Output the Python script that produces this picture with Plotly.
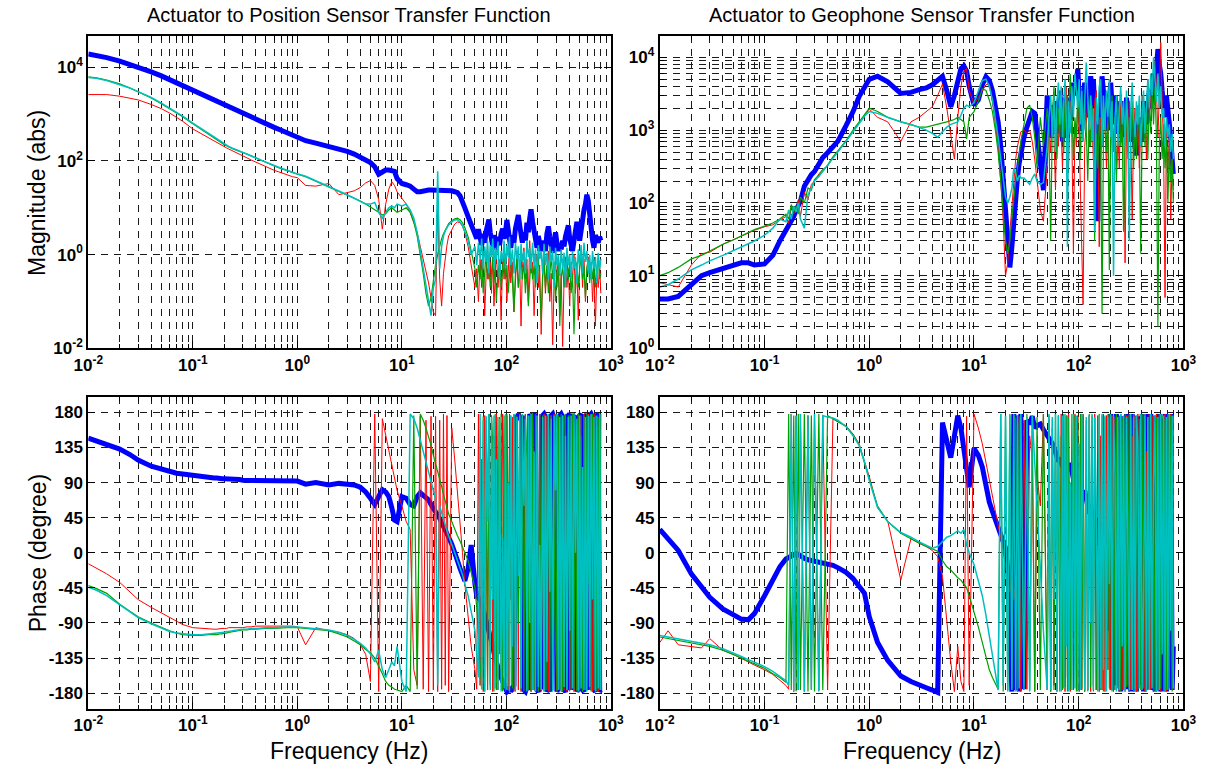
import plotly.graph_objects as go

# ---------------- frequency grid (Hz) ----------------
freq_low = [0.01, 0.012, 0.015, 0.02, 0.025, 0.03, 0.04, 0.05, 0.06, 0.07,
            0.08, 0.1, 0.12, 0.14, 0.16, 0.17, 0.18, 0.19, 0.2, 0.21,
            0.22, 0.24, 0.26, 0.28, 0.3, 0.33, 0.36, 0.4, 0.45, 0.5,
            0.6, 0.7, 0.8, 0.9, 1.0]
freq_mid = [1.2, 1.5, 2, 2.5, 3, 3.5, 4, 4.5, 5, 5.5,
            6, 6.5, 7, 7.5, 8, 8.5, 9, 10, 11, 12,
            13, 14, 15, 16, 17, 18, 19, 20]
freq_high = [21, 22, 23, 24, 25, 26, 27, 28, 30, 32,
             34, 36, 38, 40, 43, 46, 50]
freq_dense = [52, 54, 56, 58, 60, 62, 64, 66, 68, 70,
              72, 74, 76, 78, 80, 83, 86, 89, 92, 95,
              98, 101, 104, 107, 110, 114, 118, 122, 126, 130,
              134, 138, 142, 147, 152, 157, 162, 167, 172, 178,
              184, 190, 196, 202, 208, 215, 222, 229, 236, 244,
              252, 260, 268, 277, 286, 295, 304, 314, 324, 334,
              345, 356, 367, 379, 391, 403, 416, 429, 443, 457,
              472, 487, 502, 518, 535, 552, 570, 588, 607, 626,
              646, 667, 688, 710, 733, 756, 780, 800]
freq = freq_low + freq_mid + freq_high + freq_dense

# ---------------- Actuator -> Position sensor : magnitude ----------------
pos_mag_blue = [1.9e4, 1.8e4, 1.6e4, 1.35e4, 1.15e4, 1.0e4, 7.9e3, 6.5e3, 5.4e3, 4.6e3,
                4.0e3, 3.1e3, 2.6e3, 2.2e3, 1.9e3, 1.8e3, 1.7e3, 1.6e3, 1.5e3, 1.43e3,
                1.37e3, 1.26e3, 1.17e3, 1.09e3, 1.02e3, 930, 850, 770, 690, 620,
                520, 450, 400, 355, 310] + \
               [270, 240, 205, 180, 160, 140, 122, 107, 92, 75,
                52, 58, 64, 64, 63, 60, 42, 33, 31, 29,
                25, 22, 22, 23, 24, 24, 24, 24] + \
               [24, 24, 24, 24, 24, 24, 24, 24, 23, 22,
                21, 18, 14, 10, 6.5, 4.3, 3.0] + \
               [2.2, 3.5, 2.0, 1.6, 2.8, 1.8, 3.2, 4.5, 5.6, 3.0,
                2.0, 1.5, 2.6, 1.8, 1.3, 2.4, 1.6, 2.8, 3.6, 2.2,
                3.0, 5.5, 3.2, 2.0, 1.4, 2.6, 1.8, 3.6, 5.0, 7.0,
                4.2, 2.6, 1.8, 3.0, 2.0, 4.8, 3.0, 6.0, 9.3, 5.0,
                3.0, 2.0, 1.4, 2.5, 1.6, 1.2, 2.0, 1.5, 1.2, 2.8,
                4.0, 2.4, 1.6, 1.1, 1.8, 3.0, 1.8, 1.2, 1.6, 1.3,
                2.0, 1.5, 2.4, 3.5, 4.2, 2.2, 1.4, 1.2, 2.0, 3.4,
                5.0, 3.0, 2.0, 3.2, 6.0, 9.0, 12, 19, 14, 6.0,
                3.0, 2.0, 1.4, 2.6, 2.2, 1.8, 2.4, 2.0]
pos_mag_red = [2.6e3, 2.6e3, 2.6e3, 2.4e3, 2.2e3, 2.0e3, 1.6e3, 1.3e3, 1.05e3, 850,
               700, 480, 380, 310, 260, 240, 225, 210, 200, 190,
               180, 165, 150, 138, 128, 116, 105, 94, 83, 75,
               63, 56, 50, 46, 44] + \
              [30, 29, 33, 19, 21, 23, 27, 34, 38, 30,
               15, 3.5, 12, 25, 36, 30, 22, 16, 12, 8,
               5, 3, 1.5, 0.8, 0.4, 0.25, 0.12, 0.06] + \
              [0.05, 12, 0.3, 0.08, 0.4, 0.9, 1.6, 2.5, 3.5, 4.5,
               5.0, 4.8, 4.0, 3.0, 1.5, 0.6, 0.2] + \
              [0.5, 0.1, 0.8, 0.2, 1.2, 0.05, 0.4, 1.5, 0.3, 0.7,
               0.15, 0.9, 0.08, 0.5, 1.3, 0.2, 0.6, 0.04, 0.8, 0.3,
               1.0, 0.1, 0.5, 1.6, 0.25, 0.7, 0.06, 0.4, 1.1, 0.2,
               0.6, 0.03, 0.5, 1.4, 0.3, 0.8, 0.1, 2.0, 0.4, 0.7,
               0.05, 0.5, 1.0, 0.2, 0.6, 0.02, 0.3, 0.9, 0.15, 0.5,
               1.2, 0.1, 0.4, 0.012, 0.3, 0.8, 0.2, 0.6, 0.05, 0.4,
               0.011, 0.3, 0.9, 0.2, 0.5, 0.08, 0.7, 0.3, 1.0, 0.15,
               0.5, 0.04, 0.6, 1.3, 0.2, 0.8, 0.1, 0.5, 0.9, 0.3,
               0.7, 0.1, 0.5, 0.03, 0.4, 0.2, 0.6, 0.15]
pos_mag_green = [6.2e3, 5.9e3, 5.3e3, 4.4e3, 3.6e3, 3.0e3, 2.2e3, 1.65e3, 1.3e3, 1.05e3,
                 870, 620, 470, 370, 300, 275, 255, 238, 222, 210,
                 198, 182, 170, 160, 155, 140, 128, 115, 102, 92,
                 78, 68, 61, 56, 52] + \
                [46, 37, 28, 23, 19, 16, 14, 12, 10.5, 9,
                 8, 7, 7.5, 9, 10, 9, 8, 9, 10, 8,
                 5, 2.5, 1.0, 0.4, 0.15, 0.08, 0.12, 0.3] + \
                [0.6, 1.0, 1.6, 2.2, 2.8, 3.4, 4.0, 4.6, 5.3, 5.8,
                 6.0, 5.6, 4.8, 3.8, 2.4, 1.2, 0.5] + \
                [0.2, 0.6, 0.3, 0.8, 0.15, 0.5, 1.1, 0.3, 0.7, 0.2,
                 0.5, 0.9, 0.25, 0.6, 0.1, 0.4, 0.8, 0.2, 0.5, 1.0,
                 0.3, 0.6, 0.15, 0.4, 0.9, 0.3, 0.06, 0.4, 0.8, 0.2,
                 0.5, 1.0, 0.3, 0.7, 0.15, 0.5, 0.08, 0.4, 0.9, 0.3,
                 0.6, 0.2, 0.5, 0.9, 0.25, 0.04, 0.4, 0.8, 0.2, 0.6,
                 0.15, 0.5, 0.9, 0.3, 0.7, 0.1, 0.4, 0.8, 0.03, 0.3,
                 0.6, 0.2, 0.5, 0.9, 0.3, 0.7, 0.15, 0.4, 0.02, 0.3,
                 0.7, 0.2, 0.5, 0.9, 0.3, 0.6, 0.12, 0.5, 0.8, 0.25,
                 0.6, 0.3, 0.7, 0.2, 0.5, 0.9, 0.3, 0.4]
pos_mag_cyan = [6.0e3, 5.8e3, 5.2e3, 4.3e3, 3.6e3, 3.0e3, 2.25e3, 1.7e3, 1.35e3, 1.1e3,
                900, 640, 490, 385, 310, 285, 262, 244, 228, 215,
                203, 186, 173, 163, 157, 143, 130, 117, 104, 94,
                80, 70, 63, 57, 53] + \
               [47, 38, 29, 23, 19, 16, 14, 12, 12, 13,
                8, 6, 8, 10, 11, 10, 12, 11, 12, 9,
                6, 3, 1.2, 0.5, 0.2, 0.1, 0.05, 0.2] + \
               [0.3, 60, 0.5, 1.5, 2.5, 3.2, 3.8, 4.3, 5.0, 5.5,
                5.6, 5.0, 4.2, 3.2, 2.0, 1.0, 1.5] + \
               [0.6, 1.8, 0.8, 2.2, 0.5, 1.5, 0.7, 2.0, 0.4, 1.6,
                0.9, 2.2, 0.5, 1.4, 0.8, 1.9, 0.3, 1.2, 0.7, 2.0,
                0.5, 1.6, 0.9, 2.4, 0.6, 1.3, 0.4, 1.8, 0.8, 1.5,
                0.3, 1.7, 0.7, 1.2, 0.4, 2.0, 0.9, 1.4, 0.5, 1.8,
                0.6, 1.3, 0.25, 1.6, 0.8, 1.2, 0.4, 1.7, 0.6, 1.1,
                0.3, 1.5, 0.7, 1.2, 0.2, 1.4, 0.6, 1.0, 0.35, 1.3,
                0.5, 1.1, 0.2, 1.4, 0.6, 1.0, 0.3, 1.2, 0.5, 0.9,
                0.25, 1.3, 0.6, 1.6, 0.4, 1.8, 0.7, 1.2, 0.4, 1.0,
                0.3, 1.2, 0.5, 0.9, 0.25, 1.1, 0.5, 0.8]

# ---------------- Actuator -> Position sensor : phase (deg) ----------------
pos_ph_blue = [147, 143, 138, 133, 126, 119, 111, 107, 104, 102,
               101, 99, 98, 97, 96, 96, 95, 95, 95, 95,
               94, 94, 94, 94, 93, 93, 93, 93, 92, 92,
               92, 92, 92, 92, 92] + \
              [88, 90, 87, 89, 88, 87, 84, 78, 70, 62,
               72, 81, 78, 72, 58, 42, 40, 72, 70, 62,
               60, 72, 77, 74, 72, 68, 62, 56] + \
              [52, 48, 44, 38, 33, 28, 24, 20, 11, 2,
               -10, -20, -30, -36, -20, 10, -40] + \
              [-55, -58, -60, -65, -72, -80, -85, -92, -100, -108,
               -115, -120, -128, -135, -140, -148, -155, -160, -165, -170,
               -174, -178, -176, -172, -178, -175, -170, 176, 172, 178,
               174, 170, 176, -176, -178, -172, -176, 178, 174, 170,
               176, 178, -176, -178, -172, -175, 176, 178, 174, -178,
               -174, -178, 176, 178, 172, 175, -178, -174, 176, 178,
               174, -176, -178, -172, 176, 178, -176, 178, 172, 176,
               -178, -174, 176, 178, -176, -178, 174, 178, -176, 176,
               178, 174, -176, -178, 176, 178, -178, -176]
pos_ph_red = [-14, -20, -27, -38, -50, -60, -70, -77, -83, -88,
              -92, -96, -97, -98, -98, -98, -97, -97, -97, -97,
              -96, -96, -96, -96, -96, -95, -95, -94, -94, -94,
              -94, -94, -94, -94, -95] + \
             [-118, -96, -100, -102, -105, -110, -118, -130, -165, 178,
              -178, 172, 150, 130, 110, 95, 80, 60, 40, 30,
              -150, -170, 175, -175, 170, -178, 175, -176] + \
             [175, -178, 170, -175, 178, -170, 176, -178, 160, 120,
              80, 40, 0, -40, -80, -120, -150] + \
             [-175, 178, -170, 120, -178, 176, 60, -176, 178, -120,
              176, -178, 150, -20, 178, -176, 174, -150, 178, 90,
              -178, 176, -176, 178, -60, 174, -178, 176, 130, -176,
              178, -178, 176, -100, 178, -176, 174, 40, -178, 176,
              -176, 178, 160, -178, 176, -178, -30, 178, -176, 176,
              -178, 150, 176, -176, 178, -120, -178, 176, 100, -178,
              176, -176, 178, -178, 60, 176, -176, 178, -178, 170,
              -176, 178, -150, 176, -178, 178, -176, 20, 178, -176,
              176, -178, 178, -176, 120, -178, 176, -175]
pos_ph_green = [-42, -46, -52, -66, -75, -82, -90, -96, -100, -103,
                -105, -106, -106, -105, -105, -105, -104, -104, -103, -103,
                -102, -101, -100, -100, -99, -99, -98, -98, -97, -97,
                -97, -96, -96, -96, -96] + \
               [-97, -98, -100, -104, -108, -113, -118, -124, -128, -135,
                -145, -155, -165, -170, -172, -175, -176, -178, -170, -178,
                176, -175, 178, 170, 160, 150, 138, 125] + \
               [115, 105, 95, 85, 75, 65, 58, 50, 40, 30,
                22, 15, 8, 0, -10, -25, -45] + \
               [-70, -100, -140, -175, 175, -178, 170, -176, 178, -170,
                176, 140, -178, 178, -176, 174, -130, 178, -178, 176,
                -176, 178, 60, -178, 176, -174, 178, -178, 176, -90,
                178, -176, 174, -178, 178, 120, -176, 176, -178, 178,
                -176, 176, -20, -178, 178, -176, 176, -178, 150, -176,
                178, -178, 176, -176, -80, 178, -178, 176, -176, 178,
                -178, 174, 178, -176, 176, -178, 90, 178, -176, 176,
                -178, 178, -176, 150, -178, 176, -176, 178, -40, 176,
                -178, 178, -176, 176, -178, 174, -176, 178]
pos_ph_cyan = [-44, -48, -55, -67, -76, -83, -91, -97, -101, -103,
               -104, -105, -105, -104, -104, -103, -103, -102, -102, -101,
               -101, -100, -99, -99, -98, -98, -97, -97, -96, -96,
               -96, -95, -95, -95, -95] + \
              [-96, -97, -99, -102, -106, -111, -116, -122, -130, -140,
               -125, -150, -160, -150, -140, -145, -120, -165, -178, 178,
               172, 160, 145, 130, 118, 105, 92, 80] + \
              [68, -170, 60, 50, 42, 35, 28, 22, 12, 2,
               -8, -18, -28, -40, -55, -75, -100] + \
              [-130, -160, 178, -175, 170, -178, 175, 40, 178, -176,
               174, -60, 176, -174, 120, -176, 172, -178, 20, -174,
               178, -176, 90, -178, 176, -120, 178, -176, 174, -30,
               176, -174, 178, 60, 172, -178, 176, -90, 178, -176,
               130, -178, 176, -172, 10, -176, 174, -178, 176, -140,
               178, -50, 172, -178, 176, 80, 178, -176, 174, -178,
               176, -172, 150, -176, 174, -100, 176, -174, 178, 0,
               172, -178, 176, -174, 110, -176, 174, -178, 176, -172,
               178, -60, 174, -178, 176, -174, 178, -176]

# ---------------- Actuator -> Geophone sensor : magnitude ----------------
geo_mag_blue = [4.8, 4.8, 5.2, 7.5, 10, 11, 12.5, 14, 15, 15,
                14, 14.5, 19, 30, 42, 50, 58, 65, 80, 92,
                105, 170, 215, 245, 270, 350, 420, 490, 580, 700,
                1150, 1800, 2900, 4000, 5000] + \
               [5500, 4600, 3200, 3300, 3600, 3800, 4200, 4800, 5500, 3500,
                2100, 3000, 5000, 7000, 7600, 6500, 4000, 2200, 2600, 4200,
                5400, 4800, 3500, 2200, 1300, 600, 200, 60] + \
               [20, 13, 25, 60, 120, 220, 350, 500, 800, 1100,
                1400, 1800, 1700, 900, 300, 150, 3000] + \
               [1500, 800, 2200, 1200, 2500, 900, 1800, 3500, 1500, 700,
                1600, 2800, 1200, 800, 2800, 1400, 2200, 4500, 3000, 5000,
                6900, 3000, 1500, 1000, 2500, 4500, 3000, 1500, 2800, 5500,
                4000, 5000, 2000, 300, 56, 800, 2000, 5500, 3500, 3000,
                1500, 1000, 2500, 4500, 2200, 1200, 3000, 1800, 900, 1500,
                2500, 800, 2200, 1000, 2800, 1500, 1200, 700, 1500, 800,
                500, 450, 900, 1500, 700, 800, 1600, 2500, 1200, 1800,
                3500, 2000, 4500, 6000, 4000, 9000, 13000, 8000, 6000, 3500,
                2500, 1500, 3000, 2000, 1300, 800, 400, 250]
geo_mag_red = [8, 7.5, 7, 14, 20, 21, 27, 31, 35, 39,
               42, 47, 50, 58, 65, 52, 85, 70, 78, 110,
               65, 140, 110, 180, 200, 250, 290, 320, 420, 500,
               700, 950, 1250, 1600, 1950] + \
              [1500, 1300, 700, 1300, 1500, 1800, 2100, 3000, 4300, 2000,
               800, 400, 1500, 4000, 6500, 7000, 3500, 2300, 2800, 3500,
               4200, 4300, 2500, 1200, 600, 200, 57, 10] + \
              [15, 40, 100, 240, 400, 600, 800, 950, 1000, 900,
               1000, 700, 400, 200, 80, 56, 300] + \
              [1200, 500, 2000, 800, 150, 1500, 600, 2500, 900, 300,
               1200, 2500, 3900, 1000, 300, 2500, 800, 20, 1200, 600,
               2500, 800, 150, 30, 4, 600, 1200, 2500, 600, 3000,
               1200, 400, 2500, 3500, 1000, 25, 1500, 600, 2500, 1200,
               300, 1200, 100, 800, 2000, 500, 1500, 250, 1000, 300,
               3000, 700, 2000, 15, 1200, 500, 2500, 800, 60, 1000,
               2000, 500, 1500, 300, 1000, 3000, 700, 2000, 400, 5000,
               1500, 3000, 2000, 5000, 9000, 4000, 800, 3000, 16000, 2500,
               600, 5, 1200, 300, 800, 60, 400, 150]
geo_mag_green = [10, 11, 13, 17, 19, 22, 27, 31, 35, 39,
                 43, 48, 53, 60, 70, 60, 95, 75, 90, 70,
                 120, 100, 160, 150, 210, 240, 280, 330, 430, 520,
                 720, 1000, 1300, 1650, 2000] + \
                [1800, 1500, 1300, 1200, 1100, 1100, 1150, 1200, 1250, 1300,
                 1350, 1400, 1500, 1400, 1300, 760, 1500, 1800, 2500, 3700,
                 3500, 2600, 1800, 1000, 500, 200, 80, 30] + \
                [20, 30, 60, 120, 200, 300, 450, 700, 1200, 2000,
                 2200, 1500, 800, 300, 1500, 600, 2000] + \
                [800, 30, 1500, 4000, 1200, 400, 2000, 800, 3000, 1500,
                 500, 2500, 1000, 3000, 1500, 5900, 2000, 400, 1500, 800,
                 3500, 1500, 400, 1800, 700, 2500, 1000, 200, 1500, 600,
                 2200, 800, 30, 900, 300, 1500, 600, 3, 700, 2000,
                 500, 1500, 12, 900, 3000, 500, 1500, 200, 800, 2500,
                 600, 1200, 40, 700, 2000, 400, 1500, 800, 2500, 300,
                 1200, 400, 2200, 800, 20, 1000, 2500, 600, 1800, 400,
                 2500, 900, 3500, 1200, 4000, 800, 2, 600, 1500, 400,
                 1200, 300, 800, 100, 600, 200, 400, 100]
geo_mag_cyan = [7, 7.5, 9, 12, 14, 16, 19, 22, 25, 27,
                30, 36, 45, 60, 55, 80, 60, 90, 75, 100,
                60, 45, 130, 160, 200, 230, 270, 320, 410, 500,
                700, 950, 1250, 1550, 1800] + \
               [1700, 1500, 1300, 1200, 1100, 1000, 900, 800, 950, 1100,
                1200, 1250, 1300, 1600, 2000, 2200, 2100, 2400, 3500, 4800,
                5000, 4000, 2600, 1500, 800, 400, 200, 120] + \
               [100, 120, 160, 300, 250, 200, 240, 220, 220, 200,
                180, 220, 250, 200, 180, 190, 600] + \
               [1500, 3000, 800, 3000, 500, 2500, 4500, 1200, 4000, 800,
                2500, 5000, 1500, 25, 2500, 900, 4000, 1500, 6000, 3000,
                2000, 5000, 1200, 3500, 700, 2500, 8500, 3000, 1000, 3000,
                700, 2000, 40, 2800, 1200, 4000, 5000, 600, 3000, 1000,
                3500, 1500, 5000, 800, 2500, 10, 1500, 3000, 600, 2000,
                4000, 1200, 2500, 600, 3500, 1000, 30, 2000, 4500, 1500,
                800, 2500, 1200, 3000, 600, 1500, 3500, 900, 2500, 5000,
                2000, 6000, 3000, 10000, 5000, 2500, 6000, 2000, 4000, 1500,
                2000, 600, 1500, 800, 1200, 500, 900, 400]

# ---------------- Actuator -> Geophone sensor : phase (deg) ----------------
geo_ph_blue = [30, 18, 3, -27, -45, -57, -72, -80, -85, -86,
               -78, -55, -35, -18, -8, -6, -4, -2, -1, -2,
               -4, -7, -9, -10, -11, -12, -13, -14, -16, -19,
               -25, -33, -42, -52, -82] + \
              [-115, -138, -158, -165, -170, -173, -176, -179, 167, 140,
               122, 150, 176, 160, 130, 100, 84, 134, 125, 110,
               85, 65, 53, 42, 32, 22, 12, 6] + \
              [-20, -100, -178, 178, -176, 176, -178, 178, -175, 170,
               165, 175, 160, 163, 165, 158, 150] + \
              [148, 145, 140, 135, 128, 120, 117, 122, 115, 110,
               118, 112, 117, 110, 105, 115, 100, 95, 90, 100,
               85, 80, 90, 75, 70, 80, 66, 60, 50, 62,
               40, 55, 30, 45, 10, 35, -20, 40, 10, -60,
               20, -100, 30, 178, -176, 80, -170, 178, -120, 100,
               -178, 175, -60, 120, 178, -175, 60, -178, 178, -150,
               160, -178, 175, -170, 40, 178, -178, 176, -120, 178,
               -175, 178, -176, 170, -178, 176, -175, 178, -178, 172,
               -176, 178, -178, 170, -120, 178, -176, -120]
geo_ph_red = [-115, -100, -118, -120, -122, -110, -125, -130, -135, -140,
              -144, -150, -156, -163, -170, -175, 178, -178, 175, -176,
              178, -178, 176, -175, 178, -176, 175, -176, 172, 168,
              163, 152, 140, 117, 98] + \
             [58, 41, -35, 18, 12, 8, 3, -5, -30, -90,
              -140, -178, -120, -165, -178, 175, -170, 178, 160, 140,
              115, 95, 75, 55, 35, 20, 0, -20] + \
             [-35, -50, -20, -60, -40, -170, 175, -178, 170, -175,
              150, 120, -178, 100, 60, 178, -176] + \
             [170, -178, 160, -170, 150, -178, 176, -100, 178, -176,
              120, -178, 176, -160, 178, -178, 90, -176, 178, -150,
              176, -178, 150, -176, 178, -178, 100, -176, 176, -178,
              160, -170, 178, -176, 176, -178, 150, -176, 178, -178,
              176, -150, 178, -176, 176, -178, 174, -175, 170, -178,
              178, -176, 60, -178, 176, -170, 178, -176, 150, -178,
              176, -178, 178, -120, 176, -176, 178, -178, 130, -176,
              178, -176, 176, -178, 40, 178, -176, 176, -178, 160,
              -176, 178, -178, 176, -150, 178, -176, -175]
geo_ph_green = [-108, -110, -112, -115, -118, -120, -125, -130, -135, -139,
                -142, -148, -155, -160, -166, 178, -176, 176, -178, 178,
                -176, 178, -178, 176, -178, 178, -176, 176, 172, 168,
                162, 152, 138, 115, 95] + \
               [60, 40, 25, 18, 12, 8, 5, 2, -10, -18,
                -22, -28, -32, -35, -40, -45, -55, -75, -95, -115,
                -135, -150, -160, -168, -175, 178, -178, 176] + \
               [-176, 178, -174, 176, 170, -178, 165, 176, -170, 178,
                -176, 176, -178, 174, -176, 178, -170] + \
               [176, -178, 172, -176, 178, -174, 176, -178, 150, -176,
                178, -172, 176, -178, 174, -176, 178, -100, 176, -178,
                172, -176, 178, -174, 176, -178, 170, -176, 178, -172,
                176, -178, 174, -176, -100, 178, -176, 176, -178, 174,
                -176, 178, -174, 176, -178, 172, -176, 178, -174, 176,
                -178, 174, -176, 178, -172, 176, -178, 174, -176, 178,
                -174, 176, -178, 172, -176, 178, -174, 176, -178, 174,
                -176, 178, -172, 176, -178, 174, -176, 178, -174, 176,
                -178, 172, -176, 178, -174, 176, -178, 176]
geo_ph_cyan = [-106, -108, -110, -113, -116, -118, -123, -128, -133, -137,
               -140, -146, -152, -158, -164, -170, 178, -178, 176, -176,
               178, -178, 176, -176, 178, -178, 176, 174, 173, 170,
               162, 150, 138, 117, 93] + \
              [58, 40, 26, 20, 14, 10, 6, 8, 15, 20,
               22, 25, 28, 25, 30, 10, 0, -15, -35, -55,
               -80, -105, -130, -155, -176, 178, -170, 175] + \
              [-178, 176, -176, 178, -178, 176, -174, 178, -176, 174,
               -178, 176, 120, 60, -20, -100, -176] + \
              [178, -176, 174, -60, 178, -178, 176, 30, -178, 176,
               -174, 178, -120, 176, -178, 90, -176, 178, -174, 176,
               -178, 140, -176, 178, 0, -176, 174, -178, 176, -90,
               178, -176, 174, 60, -178, 176, -174, 178, -150, 176,
               -178, 174, -40, 178, -176, 176, 100, -178, 174, -176,
               178, -120, 176, -178, 174, 20, -176, 178, -176, 174,
               -178, 176, 140, -174, 178, -176, -60, 176, -178, 174,
               -176, 178, -174, 90, 176, -178, 174, -176, 178, -130,
               176, -178, 174, -176, 178, -100, 176, -174]

for name, arr in [("pos_mag_blue", pos_mag_blue), ("pos_mag_red", pos_mag_red),
                  ("pos_mag_green", pos_mag_green), ("pos_mag_cyan", pos_mag_cyan),
                  ("pos_ph_blue", pos_ph_blue), ("pos_ph_red", pos_ph_red),
                  ("pos_ph_green", pos_ph_green), ("pos_ph_cyan", pos_ph_cyan),
                  ("geo_mag_blue", geo_mag_blue), ("geo_mag_red", geo_mag_red),
                  ("geo_mag_green", geo_mag_green), ("geo_mag_cyan", geo_mag_cyan),
                  ("geo_ph_blue", geo_ph_blue), ("geo_ph_red", geo_ph_red),
                  ("geo_ph_green", geo_ph_green), ("geo_ph_cyan", geo_ph_cyan)]:
    assert len(arr) == len(freq), (name, len(arr), len(freq))

# ---------------- styling ----------------
BLUE, RED, GREEN, CYAN = "#0000FF", "#FF0000", "#00A000", "#00BFBF"
styles = [(BLUE, 5), (RED, 1), (GREEN, 1.2), (CYAN, 1.5)]
panels = [
    ("x", "y", [pos_mag_blue, pos_mag_red, pos_mag_green, pos_mag_cyan]),
    ("x2", "y2", [geo_mag_blue, geo_mag_red, geo_mag_green, geo_mag_cyan]),
    ("x3", "y3", [pos_ph_blue, pos_ph_red, pos_ph_green, pos_ph_cyan]),
    ("x4", "y4", [geo_ph_blue, geo_ph_red, geo_ph_green, geo_ph_cyan]),
]

fig = go.Figure()
for xa, ya, series in panels:
    for (col, w), vals in zip(styles, series):
        fig.add_trace(go.Scatter(x=freq, y=vals, mode="lines", xaxis=xa, yaxis=ya,
                                 line=dict(color=col, width=w), showlegend=False,
                                 hoverinfo="skip"))

W, H = 1216, 777
FONT = "Liberation Sans, Arial, sans-serif"
GRID = "#1a1a1a"
DASH = "7px,6px"
TICKSIZE = 17

dec_vals = [0.01, 0.1, 1, 10, 100, 1000]
dec_text = ["<b>10<sup>-2</sup></b>", "<b>10<sup>-1</sup></b>", "<b>10<sup>0</sup></b>",
            "<b>10<sup>1</sup></b>", "<b>10<sup>2</sup></b>", "<b>10<sup>3</sup></b>"]
minor_x = [m * d for d in [0.01, 0.1, 1, 10, 100] for m in range(2, 10)]

def xaxis(domain):
    return dict(type="log", range=[-2, 3], domain=domain,
                tickmode="array", tickvals=dec_vals, ticktext=dec_text,
                ticks="inside", ticklen=7, tickwidth=1, tickcolor="black",
                showline=True, linecolor="black", linewidth=2, mirror="allticks",
                showgrid=True, gridcolor=GRID, griddash=DASH, gridwidth=1,
                minor=dict(tickmode="array", tickvals=minor_x, ticks="inside", ticklen=4,
                           tickcolor="black", showgrid=True, gridcolor=GRID,
                           griddash=DASH, gridwidth=1),
                tickfont=dict(family=FONT, size=TICKSIZE, color="black"), zeroline=False,
                fixedrange=True)

def ybase(domain):
    return dict(domain=domain, ticks="inside", ticklen=7, tickwidth=1, tickcolor="black",
                showline=True, linecolor="black", linewidth=2, mirror="allticks",
                showgrid=True, gridcolor=GRID, griddash=DASH, gridwidth=1,
                tickfont=dict(family=FONT, size=TICKSIZE, color="black"), zeroline=False,
                fixedrange=True)

xl = [75 / W, 610 / W]
xr = [660 / W, 1196 / W]
yt = [1 - 353 / H, 1 - 36 / H]
yb = [1 - 718 / H, 1 - 402 / H]

y1 = ybase(yt)
y1.update(type="log", range=[-2, 4.674], tickmode="array",
          tickvals=[0.01, 1, 100, 10000],
          ticktext=["<b>10<sup>-2</sup></b>", "<b>10<sup>0</sup></b>",
                    "<b>10<sup>2</sup></b>", "<b>10<sup>4</sup></b>"])
y2 = ybase(yt)
y2.update(type="log", range=[0, 4.3], tickmode="array",
          tickvals=[1, 10, 100, 1000, 10000],
          ticktext=["<b>10<sup>0</sup></b>", "<b>10<sup>1</sup></b>", "<b>10<sup>2</sup></b>",
                    "<b>10<sup>3</sup></b>", "<b>10<sup>4</sup></b>"],
          minor=dict(tickmode="array",
                     tickvals=[m * d for d in [1, 10, 100, 1000] for m in range(2, 10)],
                     ticks="inside", ticklen=4, tickcolor="black", showgrid=True,
                     gridcolor=GRID, griddash=DASH, gridwidth=1))
phase_ticks = [-180, -135, -90, -45, 0, 45, 90, 135, 180]
y3 = ybase(yb)
y3.update(range=[-200, 200], tickmode="array", tickvals=phase_ticks,
          ticktext=["<b>%d</b>" % v for v in phase_ticks])
y4 = ybase(yb)
y4.update(range=[-200, 200], tickmode="array", tickvals=phase_ticks,
          ticktext=["<b>%d</b>" % v for v in phase_ticks])

def ann(text, px, py, size, angle=0):
    return dict(text=text, x=px / W, y=1 - py / H, xref="paper", yref="paper",
                xanchor="center", yanchor="middle", showarrow=False, textangle=angle,
                font=dict(family=FONT, size=size, color="black"))

annotations = [
    ann("Actuator to Position Sensor Transfer Function", 342, 15, 20),
    ann("Actuator to Geophone Sensor Transfer Function", 928, 15, 20),
    ann("Magnitude (abs)", 23, 195, 23, -90),
    ann("Phase (degree)", 23, 560, 23, -90),
    ann("Frequency (Hz)", 342, 761, 23),
    ann("Frequency (Hz)", 928, 761, 23),
]

fig.update_layout(
    width=W, height=H, margin=dict(l=0, r=0, t=0, b=0),
    paper_bgcolor="white", plot_bgcolor="white", showlegend=False,
    xaxis=dict(xaxis(xl), anchor="y"), yaxis=dict(y1, anchor="x"),
    xaxis2=dict(xaxis(xr), anchor="y2"), yaxis2=dict(y2, anchor="x2"),
    xaxis3=dict(xaxis(xl), anchor="y3"), yaxis3=dict(y3, anchor="x3"),
    xaxis4=dict(xaxis(xr), anchor="y4"), yaxis4=dict(y4, anchor="x4"),
    annotations=annotations,
)

fig.write_html("out.html")
